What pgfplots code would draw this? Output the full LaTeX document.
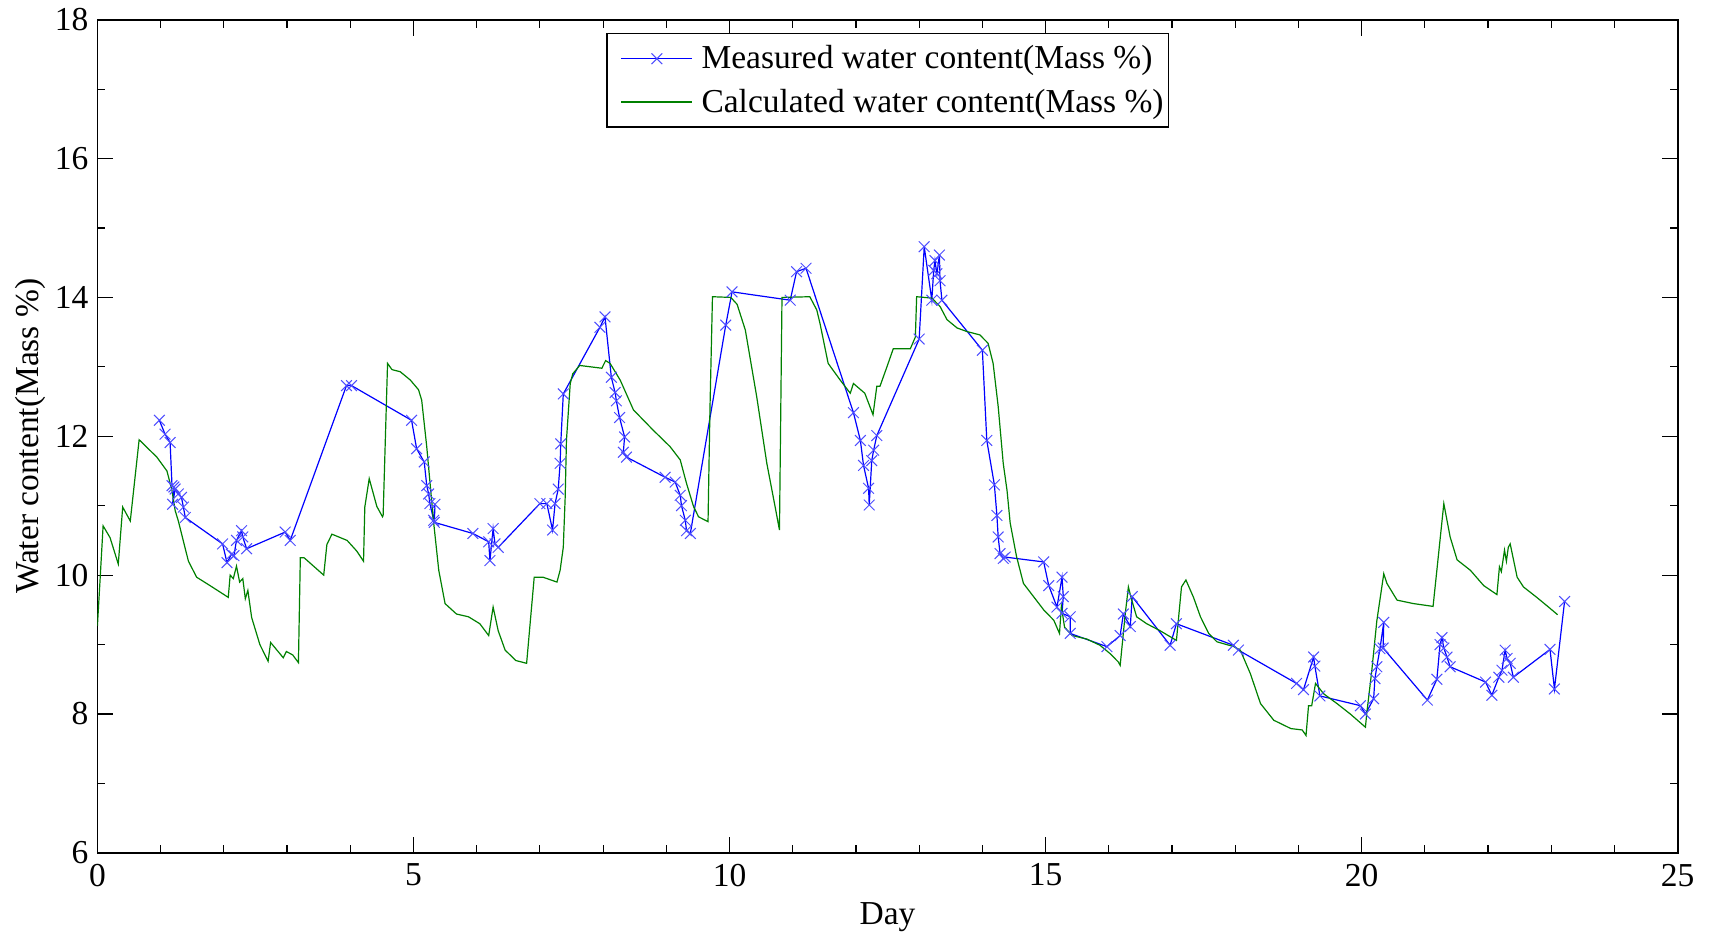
\documentclass[border=0pt]{standalone}
\usepackage{fontspec}
\setmainfont{Liberation Serif}
\usepackage{pgfplots}
\pgfplotsset{compat=1.18}
\definecolor{mblue}{rgb}{0,0,1}
\definecolor{mgreen}{rgb}{0,0.5,0}
\begin{document}
\begin{tikzpicture}
\useasboundingbox (-48.7bp,-42.25bp) rectangle (809.15bp,426.35bp);
\begin{axis}[
  at={(0,0)}, anchor=south west,
  scale only axis, width=790bp, height=416.5bp,
  xmin=0, xmax=25, ymin=6, ymax=18,
  xtick={0,5,...,25}, ytick={6,8,...,18},
  minor xtick={1,2,3,4,6,7,8,9,11,12,13,14,16,17,18,19,21,22,23,24},
  minor ytick={7,9,11,13,15,17},
  tick align=inside, tick pos=both,
  major tick length=8bp, minor tick length=4bp,
  every tick/.style={black, line width=0.6bp},
  axis line style={black, line width=0.9bp},
  font=\fontsize{16.8}{20}\selectfont,
  tick label style={font=\fontsize{16.8}{20}\selectfont},
  /pgf/number format/assume math mode=true,
  xticklabel style={yshift=-2bp},
  yticklabel style={xshift=-1bp},
  xlabel={Day}, ylabel={Water content(Mass \%)},
  xlabel style={yshift=-1bp},
  ylabel style={yshift=-2bp},
  legend style={at={(0.5,0.984)}, anchor=north, draw=black, line width=0.6bp,
    font=\fontsize{16.8}{20}\selectfont, inner xsep=0.3bp, inner ysep=4bp,
    row sep=4.5bp, cells={anchor=west}},
  legend image code/.code={\path (0bp,0bp) (44.4bp,0bp);
    \draw[mark repeat=2,mark phase=2,#1] plot coordinates {(6.6bp,0bp) (24.35bp,0bp) (42.1bp,0bp)};},
]
\addplot[mblue, line width=0.6bp, mark=x, mark size=3.8bp, mark options={line width=0.5bp, draw=mblue!70}] coordinates {
(0.98,12.23) (1.07,12.03) (1.15,11.91) (1.18,11.29) (1.21,11.27) (1.19,11.02) (1.23,11.24) (1.28,11.17) (1.33,11.12) (1.36,10.98) (1.39,10.83)
(1.98,10.45) (2.05,10.18) (2.12,10.30) (2.16,10.28) (2.20,10.50) (2.28,10.64) (2.30,10.55) (2.36,10.38)
(2.97,10.62) (3.05,10.50) (3.94,12.73) (4.02,12.73)
(4.97,12.23) (5.05,11.82) (5.17,11.63) (5.21,11.29) (5.24,11.17) (5.26,11.03) (5.32,10.79) (5.34,11.02) (5.33,10.76)
(5.94,10.60) (6.19,10.48) (6.21,10.21) (6.26,10.67) (6.29,10.45) (6.34,10.40)
(7.00,11.03) (7.11,11.03) (7.20,10.65) (7.24,11.03) (7.29,11.24) (7.32,11.61) (7.33,11.89) (7.37,12.61)
(7.95,13.57) (8.03,13.72) (8.13,12.85) (8.19,12.63) (8.21,12.51) (8.26,12.27) (8.34,11.99) (8.32,11.77) (8.37,11.70)
(8.98,11.41) (9.14,11.34) (9.22,11.15) (9.24,11.00) (9.30,10.79) (9.32,10.64) (9.38,10.60)
(9.94,13.60) (10.04,14.08) (10.96,13.96) (11.06,14.37) (11.21,14.42)
(11.96,12.34) (12.07,11.94) (12.12,11.58) (12.20,11.25) (12.21,11.01) (12.25,11.65) (12.28,11.80) (12.33,12.01)
(13.00,13.40) (13.08,14.73) (13.20,13.96) (13.23,14.39) (13.25,14.53) (13.28,14.34) (13.32,14.61) (13.33,14.24) (13.36,13.96)
(14.00,13.24) (14.07,11.94) (14.19,11.30) (14.23,10.86) (14.25,10.55) (14.28,10.31) (14.33,10.24) (14.36,10.26)
(14.97,10.19) (15.05,9.85) (15.18,9.54) (15.26,9.97) (15.28,9.69) (15.26,9.45) (15.39,9.40) (15.39,9.16)
(15.97,8.97) (16.18,9.13) (16.23,9.44) (16.34,9.26) (16.37,9.69)
(16.97,8.99) (17.07,9.30) (17.97,8.99) (18.05,8.92)
(18.97,8.44) (19.08,8.35) (19.24,8.82) (19.26,8.69) (19.34,8.26)
(19.98,8.12) (20.06,8.00) (20.19,8.22) (20.21,8.51) (20.24,8.68) (20.29,8.94) (20.35,9.32) (20.34,8.95)
(21.04,8.20) (21.19,8.50) (21.24,9.00) (21.27,9.10) (21.30,8.95) (21.35,8.82) (21.40,8.68)
(21.96,8.46) (22.06,8.27) (22.17,8.53) (22.22,8.63) (22.27,8.92) (22.30,8.80) (22.35,8.73) (22.40,8.53)
(22.98,8.93) (23.05,8.36) (23.21,9.62)
};
\addlegendentry{Measured water content(Mass \%)}
\addplot[mgreen, line width=0.6bp, no marks] coordinates {
(0,9.27) (0.04,9.9) (0.09,10.71) (0.20,10.54) (0.33,10.16) (0.40,10.98) (0.52,10.78) (0.66,11.95)
(0.94,11.70) (1.10,11.50) (1.18,11.22) (1.23,10.93) (1.28,10.78) (1.44,10.20) (1.57,9.97) (1.78,9.85)
(2.07,9.68) (2.10,10.00) (2.15,9.95) (2.20,10.13) (2.25,9.90) (2.30,9.95) (2.34,9.66) (2.38,9.78) (2.44,9.39)
(2.57,9.00) (2.70,8.76) (2.74,9.03) (2.94,8.81) (2.99,8.90) (3.09,8.85) (3.18,8.74) (3.21,10.25) (3.27,10.25)
(3.58,10.00) (3.63,10.44) (3.71,10.59) (3.95,10.50) (4.10,10.35) (4.21,10.20) (4.23,10.98) (4.30,11.39)
(4.42,10.99) (4.51,10.84) (4.52,10.86) (4.59,13.05) (4.66,12.96) (4.79,12.93) (4.95,12.81) (5.08,12.67)
(5.13,12.52) (5.21,11.85) (5.32,10.75) (5.40,10.07) (5.50,9.59) (5.68,9.44) (5.87,9.40) (6.05,9.30)
(6.19,9.13) (6.26,9.54) (6.34,9.20) (6.45,8.92) (6.62,8.77) (6.79,8.73) (6.91,9.97) (7.05,9.97)
(7.27,9.90) (7.32,10.07) (7.37,10.40) (7.40,11.12) (7.42,11.94) (7.48,12.76) (7.52,12.90) (7.63,13.02)
(7.98,12.98) (8.04,13.09) (8.11,13.05) (8.27,12.81) (8.48,12.38) (8.79,12.09) (9.06,11.85) (9.22,11.66)
(9.32,11.32) (9.43,10.99) (9.51,10.84) (9.66,10.77) (9.69,12.37) (9.73,14.01) (10.02,14.00) (10.12,13.90)
(10.25,13.53) (10.43,12.57) (10.59,11.61) (10.72,10.99) (10.79,10.65) (10.83,14.00) (11.27,14.01)
(11.38,13.82) (11.43,13.63) (11.56,13.05) (11.75,12.81) (11.91,12.62) (11.96,12.76) (12.14,12.62)
(12.27,12.31) (12.33,12.72) (12.38,12.72) (12.49,13.00) (12.59,13.26) (12.86,13.26) (12.94,13.43)
(12.96,14.01) (13.20,13.99) (13.33,13.87) (13.44,13.68) (13.60,13.56) (13.75,13.51) (13.96,13.46)
(14.09,13.34) (14.17,13.05) (14.25,12.43) (14.33,11.61) (14.39,11.22) (14.44,10.75) (14.54,10.27)
(14.65,9.88) (14.81,9.69) (14.97,9.50) (15.13,9.35) (15.22,9.16) (15.25,9.55) (15.30,9.25) (15.42,9.13)
(15.65,9.08) (15.86,8.99) (16.02,8.87) (16.15,8.75) (16.18,8.70) (16.26,9.44) (16.31,9.83) (16.36,9.65)
(16.44,9.40) (16.60,9.30) (16.81,9.20) (17.07,9.06) (17.15,9.83) (17.22,9.93) (17.34,9.68) (17.45,9.40)
(17.58,9.16) (17.71,9.04) (17.98,8.97) (18.08,8.92) (18.24,8.58) (18.40,8.15) (18.61,7.91) (18.88,7.79)
(19.06,7.77) (19.12,7.69) (19.16,8.12) (19.21,8.12) (19.27,8.44) (19.40,8.29) (19.61,8.15) (19.82,8.00)
(20.06,7.81) (20.08,8.00) (20.16,8.62) (20.24,9.34) (20.35,10.02) (20.40,9.88) (20.56,9.64) (20.82,9.59)
(21.13,9.55) (21.19,10.07) (21.30,11.03) (21.40,10.55) (21.51,10.22) (21.72,10.07) (21.93,9.85)
(22.14,9.72) (22.18,10.12) (22.21,10.05) (22.26,10.36) (22.29,10.20) (22.32,10.40) (22.35,10.45)
(22.46,9.97) (22.56,9.83) (22.77,9.68) (22.93,9.56) (23.10,9.43)
};
\addlegendentry{Calculated water content(Mass \%)}
\end{axis}
\end{tikzpicture}
\end{document}
